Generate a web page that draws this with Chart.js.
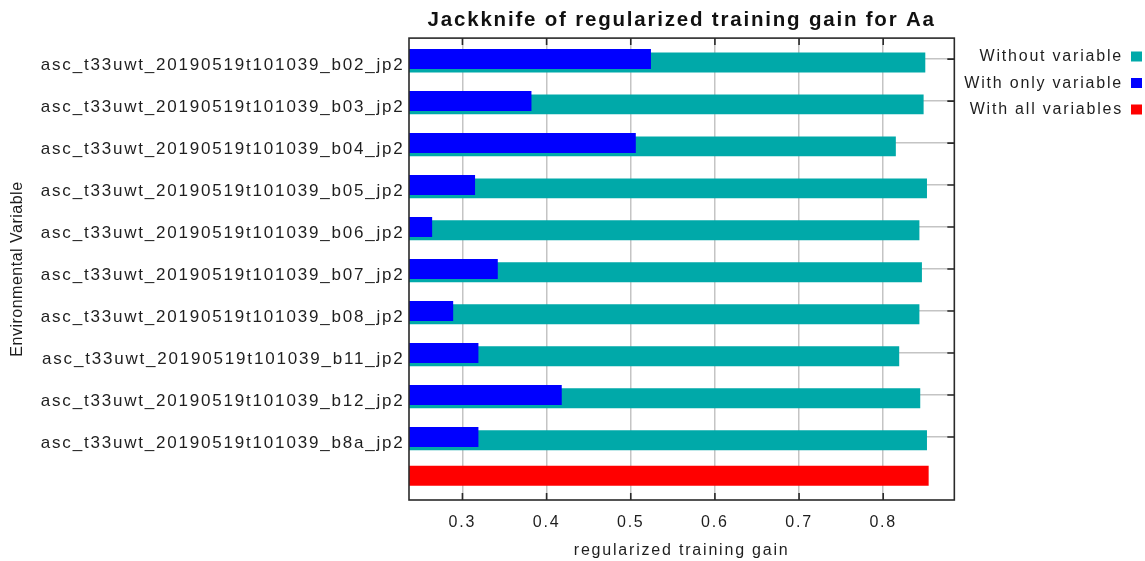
<!DOCTYPE html>
<html>
<head>
<meta charset="utf-8">
<title>Jackknife of regularized training gain for Aa</title>
<script src="https://cdn.jsdelivr.net/npm/chart.js@4.4.1/dist/chart.umd.min.js"></script>
<style>
  html, body { margin: 0; padding: 0; background: #ffffff; }
  #wrap { position: relative; width: 1145px; height: 561px; }
</style>
</head>
<body>
<div id="wrap"><canvas id="chart"></canvas></div>
<script>
// Environmental variables (last row holds the all-variables model)
const variables = [
  'asc_t33uwt_20190519t101039_b02_jp2',
  'asc_t33uwt_20190519t101039_b03_jp2',
  'asc_t33uwt_20190519t101039_b04_jp2',
  'asc_t33uwt_20190519t101039_b05_jp2',
  'asc_t33uwt_20190519t101039_b06_jp2',
  'asc_t33uwt_20190519t101039_b07_jp2',
  'asc_t33uwt_20190519t101039_b08_jp2',
  'asc_t33uwt_20190519t101039_b11_jp2',
  'asc_t33uwt_20190519t101039_b12_jp2',
  'asc_t33uwt_20190519t101039_b8a_jp2',
  ''
];

// Regularized training gain
const withoutVariable  = [0.850, 0.848, 0.815, 0.852, 0.843, 0.846, 0.843, 0.819, 0.844, 0.852, null];
const withOnlyVariable = [0.524, 0.382, 0.506, 0.315, 0.264, 0.342, 0.289, 0.319, 0.418, 0.319, null];
const withAllVariables = [null, null, null, null, null, null, null, null, null, null, 0.854];

const gainTicks = [0.3, 0.4, 0.5, 0.6, 0.7, 0.8];
const gainMin = 0.2365;
const gainMax = 0.8845;

const FONT = "'Liberation Sans', Arial, Helvetica, sans-serif";
const TEXT = '#1e1e1e';
const GRID = '#c4c4c4';
const SPACING = '1.8px';

Chart.defaults.font.family = FONT;
Chart.defaults.color = TEXT;

// Wide, evenly tracked text for the labels on the canvas
const textSpacing = {
  id: 'textSpacing',
  beforeUpdate(chart) { chart.ctx.letterSpacing = SPACING; },
  beforeLayout(chart) { chart.ctx.letterSpacing = SPACING; },
  beforeDraw(chart) { chart.ctx.letterSpacing = SPACING; },
  afterLayout(chart) {
    // the rotated axis title is set with tighter tracking
    const y = chart.scales.y;
    if (y && !y._tightTitle) {
      const draw = y.drawTitle;
      y.drawTitle = function () {
        this.ctx.save();
        this.ctx.letterSpacing = '0.5px';
        draw.call(this);
        this.ctx.restore();
      };
      y._tightTitle = true;
    }
  }
};

// Plot frame with short inward tick marks
const plotFrame = {
  id: 'plotFrame',
  afterDatasetsDraw(chart) {
    const { ctx, chartArea: a, scales: { x, y } } = chart;
    const len = 7;
    ctx.save();
    ctx.strokeStyle = '#2a2a2a';
    ctx.lineWidth = 1.6;
    ctx.beginPath();
    x.ticks.forEach(t => {
      const px = x.getPixelForValue(t.value);
      ctx.moveTo(px, a.top); ctx.lineTo(px, a.top + len);
      ctx.moveTo(px, a.bottom); ctx.lineTo(px, a.bottom - len);
    });
    y.ticks.forEach((t, i) => {
      if (!variables[i]) return;
      const py = y.getPixelForTick(i);
      ctx.moveTo(a.right, py); ctx.lineTo(a.right - len, py);
    });
    ctx.stroke();
    ctx.strokeRect(a.left, a.top, a.right - a.left, a.bottom - a.top);
    ctx.restore();
  }
};

new Chart(document.getElementById('chart'), {
  type: 'bar',
  data: {
    labels: variables,
    datasets: [
      { label: 'Without variable',   data: withoutVariable,  backgroundColor: '#00a9a9', order: 2 },
      { label: 'With only variable', data: withOnlyVariable, backgroundColor: '#0000ff', order: 1 },
      { label: 'With all variables', data: withAllVariables, backgroundColor: '#ff0000', order: 0 }
    ]
  },
  options: {
    indexAxis: 'y',
    responsive: true,
    maintainAspectRatio: false,
    animation: false,
    datasets: {
      bar: { categoryPercentage: 0.2355, barPercentage: 6.06, borderWidth: 0 }
    },
    layout: { padding: { top: 0, left: 0, right: -7.5, bottom: 0 } },
    scales: {
      x: {
        type: 'linear',
        min: gainMin,
        max: gainMax,
        afterBuildTicks: axis => { axis.ticks = gainTicks.map(v => ({ value: v })); },
        afterFit: axis => { axis.height = 61; },
        grid: { color: GRID, lineWidth: 1.5, drawTicks: false },
        border: { display: false },
        ticks: {
          padding: 13,
          maxRotation: 0,
          color: TEXT,
          font: { size: 16 },
          callback: v => Number(v).toFixed(1)
        },
        title: {
          display: true,
          text: 'regularized training gain',
          color: TEXT,
          font: { size: 16 },
          padding: { top: 9, bottom: 0.4 }
        }
      },
      y: {
        type: 'category',
        offset: true,
        afterFit: axis => { axis.width = 409; },
        grid: {
          offset: false,
          drawTicks: false,
          lineWidth: 1.5,
          color: c => (variables[c.index] ? GRID : 'rgba(0,0,0,0)')
        },
        border: { display: false },
        ticks: {
          padding: 4.5,
          labelOffset: 6,
          color: TEXT,
          font: { size: 17 },
          autoSkip: false
        },
        title: {
          display: true,
          text: 'Environmental Variable',
          color: TEXT,
          font: { size: 16 },
          padding: { top: 8.4, bottom: 8 }
        }
      }
    },
    plugins: {
      title: {
        display: true,
        text: 'Jackknife of regularized training gain for Aa',
        fullSize: false,
        color: '#111111',
        font: { size: 20.5, weight: 'bold' },
        padding: { top: 8.5, bottom: 5 }
      },
      legend: {
        position: 'right',
        align: 'start',
        fullSize: false,
        rtl: true,
        labels: {
          boxWidth: 11,
          boxHeight: 10,
          padding: 10.5,
          color: TEXT,
          font: { size: 16 },
          sort: (a, b) => a.datasetIndex - b.datasetIndex
        }
      },
      tooltip: { enabled: false }
    }
  },
  plugins: [textSpacing, plotFrame]
});
</script>
</body>
</html>
